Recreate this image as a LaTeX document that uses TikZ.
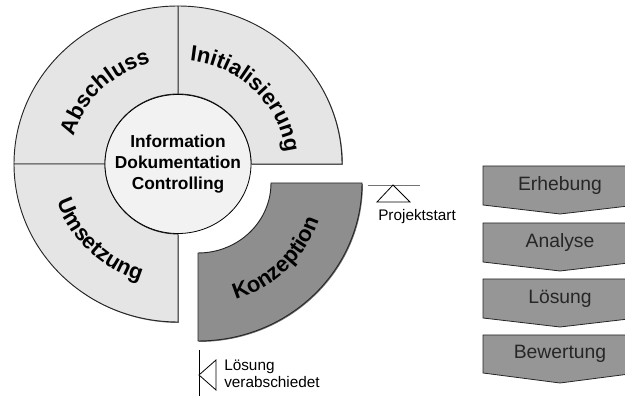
\documentclass[tikz,border=0pt]{standalone}
\usepackage{fontspec}
\setmainfont{Liberation Sans}
\usetikzlibrary{calc,decorations.text,shadows}

\definecolor{ringgray}{RGB}{229,229,229}
\definecolor{coregray}{RGB}{242,242,242}
\definecolor{darkphase}{RGB}{142,142,142}
\definecolor{boxphase}{RGB}{150,150,150}

\newcommand\ringfont{\fontsize{16.5pt}{18pt}\selectfont\bfseries}
\newcommand\infofont{\fontsize{13pt}{16pt}\selectfont\bfseries}
\newcommand\phasefont{\fontsize{14.5pt}{17pt}\selectfont}
\newcommand\markfont{\fontsize{11.5pt}{12.8pt}\selectfont}

\begin{document}
\begin{tikzpicture}[x=0.75pt,y=0.75pt,
	ringpart/.style={draw=black!85,line width=0.7pt,fill=ringgray,
		drop shadow={shadow xshift=0.7pt,shadow yshift=-0.7pt,fill=black!55,opacity=1}},
	corepart/.style={draw=black,line width=0.6pt,fill=coregray},
	phase/.style={draw=black!85,line width=0.6pt,fill=boxphase},
	phasetext/.style={font=\phasefont,text=black!85,inner sep=0.75pt},
	marktext/.style={font=\markfont,align=left,anchor=west,inner sep=0.75pt},
	ringtext/.style={decorate,decoration={text along path,text align=center,text={|\ringfont|#1}}}]
	\useasboundingbox (0,0) rectangle (625,396);
	\clip (0,0) rectangle (625,396);
	
	\coordinate (c) at (178,232);
	\coordinate (k) at (198,213);
	
	%Shape: Ring Part [Initialisierung]
	\draw[ringpart] ($(c)+(0:164 and 158)$) arc[start angle=0,end angle=90,x radius=164,y radius=158] -- ($(c)+(90:73 and 70)$) arc[start angle=90,end angle=0,x radius=73,y radius=70] -- cycle;
	%Shape: Ring Part [Abschluss]
	\draw[ringpart] ($(c)+(90:164 and 158)$) arc[start angle=90,end angle=180,x radius=164,y radius=158] -- ($(c)+(180:73 and 70)$) arc[start angle=180,end angle=90,x radius=73,y radius=70] -- cycle;
	%Shape: Ring Part [Umsetzung]
	\draw[ringpart] ($(c)+(180:164 and 158)$) arc[start angle=180,end angle=270,x radius=164,y radius=158] -- ($(c)+(270:73 and 70)$) arc[start angle=270,end angle=180,x radius=73,y radius=70] -- cycle;
	%Shape: Ring Part [Konzeption], pushed out
	\draw[ringpart,fill=darkphase] ($(k)+(270:164 and 158)$) arc[start angle=270,end angle=360,x radius=164,y radius=158] -- ($(k)+(0:73 and 70)$) arc[start angle=0,end angle=-90,x radius=73,y radius=70] -- cycle;
	
	%Shape: Ellipse
	\draw[corepart] (c) ellipse[x radius=73,y radius=69.5];
	
	% Text Node
	\node[font=\infofont,align=center] (info) at (c) {Information\\Dokumentation\\Controlling};
	
	% Ring texts
	\path[ringtext=Initialisierung] ($(c)+(89:108 and 104)$) arc[start angle=89,end angle=1,x radius=108,y radius=104];
	\path[ringtext=Abschluss] ($(c)+(179:108 and 104)$) arc[start angle=179,end angle=91,x radius=108,y radius=104];
	\path[ringtext=Umsetzung] ($(c)+(181:127 and 122)$) arc[start angle=181,end angle=269,x radius=127,y radius=122];
	\path[ringtext=Konzeption] ($(k)+(271:127 and 122)$) arc[start angle=271,end angle=359,x radius=127,y radius=122];
	
	%Straight Lines [Projektstart]
	\draw[black!55,line width=0.7pt] (368,211) -- (420,211);
	\draw[line width=0.6pt] (393,211) -- (410,194) -- (377,194) -- cycle;
	% Text Node
	\node[marktext] (start) at (377,179) {Projektstart};
	
	%Straight Lines [Loesung verabschiedet]
	\draw[line width=0.6pt] (199,46) -- (199,0);
	\draw[line width=0.6pt] (199,21) -- (216,36) -- (216,6) -- cycle;
	% Text Node
	\node[marktext] (done) at (223,22.5) {Lösung\\verabschiedet};
	
	%Shape: Chevrons
	\draw[phase] (483,230) -- (637,230) -- (637,191) -- (560,182) -- (483,191) -- cycle;
	\node[phasetext] (erhebung) at (560,210.5) {Erhebung};
	\draw[phase] (483,173) -- (637,173) -- (637,134) -- (560,125) -- (483,134) -- cycle;
	\node[phasetext] (analyse) at (560,153.5) {Analyse};
	\draw[phase] (483,117) -- (637,117) -- (637,78) -- (560,69) -- (483,78) -- cycle;
	\node[phasetext] (loesung) at (560,97.5) {Lösung};
	\draw[phase] (483,61) -- (637,61) -- (637,23) -- (560,13) -- (483,23) -- cycle;
	\node[phasetext] (bewertung) at (560,42) {Bewertung};
	
\end{tikzpicture}
\end{document}
